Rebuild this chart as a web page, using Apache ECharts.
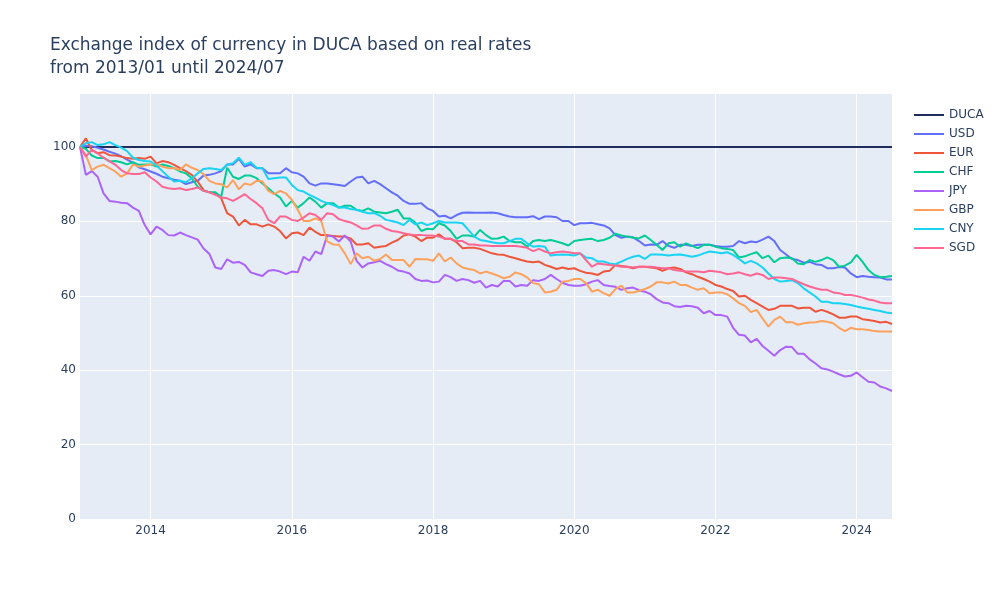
<!DOCTYPE html>
<html>
<head>
<meta charset="utf-8">
<title>Exchange index of currency in DUCA</title>
<script src="https://cdn.jsdelivr.net/npm/echarts@6/dist/echarts.min.js"></script>
<style>
  html, body { margin: 0; padding: 0; background: #fff; }
  #chart { width: 1000px; height: 600px; }
</style>
</head>
<body>
<div id="chart"></div>
<script>
// monthly categories 2013-01 .. 2024-07
const months = []
for (let y = 2013; y <= 2024; y++) {
  for (let m = 1; m <= 12; m++) {
    if (y === 2024 && m > 7) break
    months.push(y + '-' + String(m).padStart(2, '0'))
  }
}

const yTicks = [0, 20, 40, 60, 80, 100]

// one row per year
const duca = [
  100, 100, 100, 100, 100, 100, 100, 100, 100, 100, 100, 100,
  100, 100, 100, 100, 100, 100, 100, 100, 100, 100, 100, 100,
  100, 100, 100, 100, 100, 100, 100, 100, 100, 100, 100, 100,
  100, 100, 100, 100, 100, 100, 100, 100, 100, 100, 100, 100,
  100, 100, 100, 100, 100, 100, 100, 100, 100, 100, 100, 100,
  100, 100, 100, 100, 100, 100, 100, 100, 100, 100, 100, 100,
  100, 100, 100, 100, 100, 100, 100, 100, 100, 100, 100, 100,
  100, 100, 100, 100, 100, 100, 100, 100, 100, 100, 100, 100,
  100, 100, 100, 100, 100, 100, 100, 100, 100, 100, 100, 100,
  100, 100, 100, 100, 100, 100, 100, 100, 100, 100, 100, 100,
  100, 100, 100, 100, 100, 100, 100, 100, 100, 100, 100, 100,
  100, 100, 100, 100, 100, 100, 100
]

const usd = [
  100, 100.3, 100.2, 99.8, 99.3, 98.7, 98.2, 97.5, 96.6, 95.8, 94.5, 94,
  93.4, 92.8, 92, 91.6, 91.2, 90.9, 90, 90.5, 90.9, 92.3, 92.5, 92.9,
  93.5, 95.3, 95.3, 96.8, 94.7, 95.3, 94.3, 94.3, 92.9, 92.9, 92.9, 94.3,
  93.2, 92.9, 92, 90.2, 89.6, 90.2, 90.2, 90, 89.8, 89.5, 90.7, 91.8,
  92, 90.2, 90.9, 90, 88.9, 87.8, 86.9, 85.5, 84.7, 84.7, 84.9, 83.5,
  82.8, 81.3, 81.5, 80.8, 81.7, 82.3, 82.4, 82.3, 82.3, 82.3, 82.4, 82.2,
  81.7, 81.3, 81.1, 81.1, 81.1, 81.4, 80.6, 81.3, 81.3, 81.1, 80.1, 80.1,
  79, 79.5, 79.5, 79.6, 79.2, 78.9, 78.1, 76.3, 75.6, 75.9, 75.7, 74.7,
  73.5, 73.8, 73.7, 74.7, 73.4, 72.9, 73.7, 73.7, 73.4, 73.7, 73.7, 73.7,
  73.4, 73.2, 73.2, 73.4, 74.7, 74.1, 74.6, 74.4, 75.1, 75.9, 74.7, 72.3,
  71.1, 69.9, 69.6, 68.9, 69.1, 68.5, 68.3, 67.4, 67.4, 67.7, 67.6, 66,
  65, 65.3, 65.1, 65, 64.9, 64.4, 64.4
]

const eur = [
  100, 102.3, 99.2, 98.3, 98.6, 97.8, 97.7, 97.4, 97, 96.8, 97, 96.8,
  97.4, 95.6, 96.2, 95.9, 95.2, 94.3, 93.5, 92.5, 90.7, 88.4, 87.8, 87.5,
  86.2, 82.2, 81.3, 78.9, 80.4, 79.2, 79.2, 78.6, 79.2, 78.6, 77.4, 75.4,
  76.8, 77, 76.3, 78.3, 77.2, 76.3, 76.3, 76.1, 75.9, 75.9, 75.4, 73.8,
  73.8, 74.1, 72.9, 73.2, 73.4, 74.3, 75, 76.2, 76.5, 75.9, 74.7, 75.6,
  75.6, 76.5, 75.3, 75.3, 74.4, 72.8, 72.9, 72.9, 72.6, 72, 71.4, 71.1,
  71, 70.5, 70.1, 69.6, 69.2, 69, 69.2, 68.3, 67.8, 67.2, 67.6, 67.2,
  67.4, 66.7, 66.2, 66, 65.6, 66.5, 66.7, 68.3, 68, 67.8, 67.4, 67.8,
  67.8, 67.6, 67.4, 66.7, 67.4, 67.6, 67.2, 66.3, 65.8, 65.1, 64.5, 63.8,
  62.9, 62.5, 61.8, 61.3, 59.8, 60, 58.9, 58, 57.1, 56.2, 56.5, 57.3,
  57.3, 57.3, 56.6, 56.8, 56.8, 55.7, 56.2, 55.7, 55, 54.1, 54.1, 54.4,
  54.4, 53.7, 53.5, 53.2, 52.8, 53, 52.4
]

const chf = [
  100, 99.5, 97.7, 97, 97.1, 96.1, 96.2, 95.9, 95.3, 95.9, 95.2, 95.3,
  95.3, 94.7, 95.3, 94.9, 94.3, 93.4, 92.9, 91.6, 89.3, 88.2, 87.8, 87.8,
  86.6, 94.4, 92, 91.4, 92.3, 92.3, 91.6, 90.2, 88.9, 87.5, 86.4, 84,
  85.5, 83.7, 84.9, 86.4, 85.3, 83.7, 84.9, 84.9, 83.7, 84.2, 84.2, 83.1,
  82.8, 83.5, 82.6, 82.4, 82.2, 82.6, 83.1, 80.8, 80.8, 79.7, 77.4, 78,
  77.9, 79.5, 78.9, 77.4, 75.3, 76.2, 76.2, 75.9, 77.7, 76.3, 75.3, 75.4,
  75.9, 74.7, 74.4, 74.4, 73.2, 74.7, 75, 74.7, 75, 74.6, 74.1, 73.5,
  74.7, 75, 75.2, 75.3, 74.7, 75, 75.6, 76.7, 76.2, 75.9, 75.6, 75.4,
  76.2, 75, 73.7, 72.3, 74.1, 74.4, 73.2, 74.1, 73.4, 72.8, 73.7, 73.7,
  73.2, 72.8, 72.6, 72.3, 70.3, 70.6, 71.2, 71.7, 70.1, 70.8, 69, 70.1,
  70.3, 70.1, 68.7, 68.5, 69.6, 69.1, 69.6, 70.3, 69.6, 67.8, 68.1, 69,
  71, 69.1, 66.9, 65.6, 65, 65.1, 65.3
]

const jpy = [
  100, 92.5, 93.5, 92, 87.5, 85.5, 85.3, 85, 84.9, 83.7, 82.8, 79,
  76.5, 78.6, 77.7, 76.3, 76.2, 77, 76.3, 75.7, 75.1, 72.7, 71.2, 67.6,
  67.2, 69.8, 68.9, 69.1, 68.3, 66.3, 65.8, 65.3, 66.7, 66.9, 66.5, 65.8,
  66.5, 66.3, 70.5, 69.4, 71.9, 71.2, 76.2, 75.9, 74.6, 76.2, 74.6, 69.4,
  67.6, 68.7, 69, 69.4, 68.5, 67.8, 66.8, 66.5, 66, 64.5, 64, 64.1,
  63.6, 63.8, 65.6, 65, 64, 64.5, 64.2, 63.5, 64, 62.2, 62.9, 62.5,
  64, 64, 62.5, 62.9, 62.7, 64.2, 64, 64.5, 65.6, 64.5, 63.5, 62.9,
  62.7, 62.7, 63.1, 63.8, 64.2, 62.9, 62.6, 62.4, 61.6, 62, 62.2, 61.5,
  61.1, 60.4, 59.1, 58.2, 58, 57.2, 57, 57.3, 57.2, 56.8, 55.3, 55.9,
  54.8, 54.8, 54.4, 51.4, 49.5, 49.3, 47.5, 48.4, 46.5, 45.2, 43.9, 45.4,
  46.3, 46.2, 44.4, 44.4, 42.9, 41.8, 40.5, 40.2, 39.6, 38.9, 38.3, 38.5,
  39.4, 38.1, 36.9, 36.7, 35.6, 35.1, 34.4
]

const gbp = [
  100, 97.8, 93.8, 94.7, 95.2, 94.3, 93.4, 92, 92.9, 95.3, 94.7, 95,
  95.3, 95.3, 94.7, 94.3, 94.3, 93.8, 95.3, 94.4, 93.8, 92.7, 90.9, 90.2,
  90, 89.1, 91.1, 88.6, 90.2, 89.8, 90.9, 90.7, 88.2, 87.3, 88.2, 87.5,
  85.8, 83.1, 80.1, 80.1, 80.8, 80.1, 74.6, 73.8, 73.7, 71.4, 68.5, 71.4,
  70.1, 70.5, 69.4, 69.9, 71.1, 69.6, 69.6, 69.6, 67.8, 69.9, 69.8, 69.8,
  69.4, 71.4, 69.2, 70.3, 68.7, 67.6, 67.2, 66.9, 66, 66.5, 66, 65.4,
  64.7, 65.1, 66.3, 65.8, 64.9, 63.4, 63.1, 60.9, 61.1, 61.6, 63.8, 64,
  64.5, 64.5, 63.4, 61.1, 61.6, 60.7, 60, 61.8, 62.7, 60.9, 60.9, 61.3,
  61.8, 62.5, 63.6, 63.6, 63.3, 63.8, 62.9, 62.9, 62.2, 61.6, 62, 60.7,
  60.9, 60.9, 60.4, 59.3, 58, 57.3, 55.6, 56.2, 53.9, 51.7, 53.5, 54.4,
  52.9, 52.9, 52.2, 52.6, 52.8, 52.9, 53.2, 53, 52.6, 51.4, 50.5, 51.4,
  51, 51, 50.8, 50.5, 50.4, 50.4, 50.4
]

const cny = [
  100, 101, 101.3, 100.5, 100.7, 101.3, 100.5, 99.8, 98.9, 97.1, 96.5, 96.2,
  96.1, 95, 93.5, 92, 90.7, 90.9, 90.5, 91.6, 92.9, 94.1, 94.3, 94.1,
  93.8, 95.2, 95.6, 97.1, 95.2, 95.9, 94.4, 94.3, 91.4, 91.6, 91.8, 91.8,
  89.8, 88.4, 88, 87.1, 86.4, 85.5, 84.9, 84.4, 83.7, 83.7, 83.3, 83.1,
  82.6, 82.2, 82.2, 81.5, 80.4, 80.1, 79.7, 79, 80.4, 79.2, 79.7, 79,
  79.5, 80.1, 79.7, 79.7, 79.7, 79.5, 77.7, 75.9, 75, 74.7, 74.4, 74.1,
  74.1, 74.7, 75.3, 75.3, 74.1, 73.2, 73.4, 73.2, 70.8, 71, 71.1, 71,
  70.8, 71.4, 70.3, 70.1, 69.2, 69.2, 68.7, 68.5, 69.2, 69.9, 70.5, 70.8,
  69.9, 71.1, 71.1, 71, 70.8, 71, 71.1, 70.8, 70.5, 70.8, 71.4, 71.9,
  71.7, 71.4, 71.7, 71, 69.9, 68.7, 69.4, 68.7, 67.6, 66, 64.5, 63.8,
  64, 64.2, 63.4, 62, 60.9, 59.8, 58.4, 58.4, 58, 58, 57.8, 57.5,
  57.1, 56.8, 56.5, 56.2, 55.9, 55.5, 55.3
]

const sgd = [
  100, 97.4, 99.2, 98.3, 97.1, 96.2, 95.2, 93.8, 92.9, 92.7, 92.7, 93.2,
  91.8, 90.7, 89.3, 88.9, 88.7, 88.9, 88.4, 88.7, 89.1, 88.2, 87.8, 87.1,
  86.4, 86.2, 85.5, 86.4, 87.3, 86, 84.9, 83.5, 80.4, 79.5, 81.3, 81.3,
  80.4, 80.1, 81, 82.2, 81.7, 80.4, 82.2, 81.9, 80.6, 80.1, 79.7, 78.9,
  78, 78.1, 78.9, 78.9, 78, 77.4, 77.2, 76.8, 76.5, 76.3, 76.3, 76.2,
  76.2, 75.9, 75.4, 75.3, 74.7, 74.7, 73.8, 73.8, 73.5, 73.5, 73.4, 73.4,
  73.4, 73.4, 73.4, 73.2, 72.9, 72, 72.6, 71.9, 71.4, 71.7, 71.9, 71.7,
  71.4, 71.4, 69.6, 67.8, 68.7, 68.5, 68.3, 68.1, 67.8, 67.8, 67.6, 67.8,
  67.8, 67.8, 67.6, 67.4, 67.4, 66.9, 66.7, 66.5, 66.5, 66.5, 66.3, 66.7,
  66.5, 66.3, 65.8, 66, 66.3, 65.8, 65.4, 66, 65.6, 64.5, 64.9, 64.9,
  64.7, 64.5, 63.8, 63.1, 62.5, 62, 61.6, 61.6, 60.9, 60.7, 60.2, 60.2,
  59.9, 59.5, 59, 58.7, 58.2, 58, 58
]

const seriesNames = ['DUCA', 'USD', 'EUR', 'CHF', 'JPY', 'GBP', 'CNY', 'SGD']
const seriesColors = ['#1f2d5c', '#636efa', '#ef553b', '#00cc96', '#ab63fa', '#ffa15a', '#19d3f3', '#ff6692']
const seriesData = [duca, usd, eur, chf, jpy, gbp, cny, sgd]

const textColor = '#2a3f5f'
const fontFamily = '"DejaVu Sans", Verdana, sans-serif'

// only January of even years gets a tick label / grid line
function isYearTick(index) {
  const v = months[index]
  return v.endsWith('-01') && Number(v.slice(0, 4)) % 2 === 0
}

const chart = echarts.init(document.getElementById('chart'))

chart.setOption({
  animation: false,
  backgroundColor: '#ffffff',
  textStyle: { fontFamily: fontFamily },
  title: {
    text: 'Exchange index of currency in DUCA based on real rates\nfrom 2013/01 until 2024/07',
    left: 45,
    top: 29,
    textStyle: {
      color: textColor,
      fontSize: 17,
      fontWeight: 'normal',
      lineHeight: 23,
      fontFamily: fontFamily
    }
  },
  legend: {
    orient: 'vertical',
    left: 909,
    top: 103,
    icon: 'rect',
    itemWidth: 30,
    itemHeight: 2,
    itemGap: 5,
    data: seriesNames,
    textStyle: { color: textColor, fontSize: 12, lineHeight: 14, fontFamily: fontFamily }
  },
  grid: {
    left: 80,
    right: 108,
    top: 93,
    bottom: 81,
    show: true,
    backgroundColor: '#e5ecf6',
    borderWidth: 0
  },
  xAxis: {
    type: 'category',
    boundaryGap: false,
    data: months,
    axisLine: { show: false },
    axisTick: { show: false },
    axisLabel: {
      interval: isYearTick,
      formatter: (v) => v.slice(0, 4),
      color: textColor,
      fontSize: 12,
      margin: 6
    },
    splitLine: {
      show: true,
      interval: isYearTick,
      lineStyle: { color: '#ffffff', width: 1 }
    }
  },
  yAxis: {
    type: 'value',
    min: yTicks[0],
    max: 114.5,
    interval: 20,
    axisLine: { show: false },
    axisTick: { show: false },
    axisLabel: {
      color: textColor,
      fontSize: 12,
      margin: 4,
      showMaxLabel: false
    },
    splitLine: { lineStyle: { color: '#ffffff', width: 1 } }
  },
  series: seriesNames.map((name, i) => ({
    name: name,
    type: 'line',
    data: seriesData[i],
    symbol: 'none',
    color: seriesColors[i],
    lineStyle: { width: 2, color: seriesColors[i] }
  }))
})
</script>
</body>
</html>
